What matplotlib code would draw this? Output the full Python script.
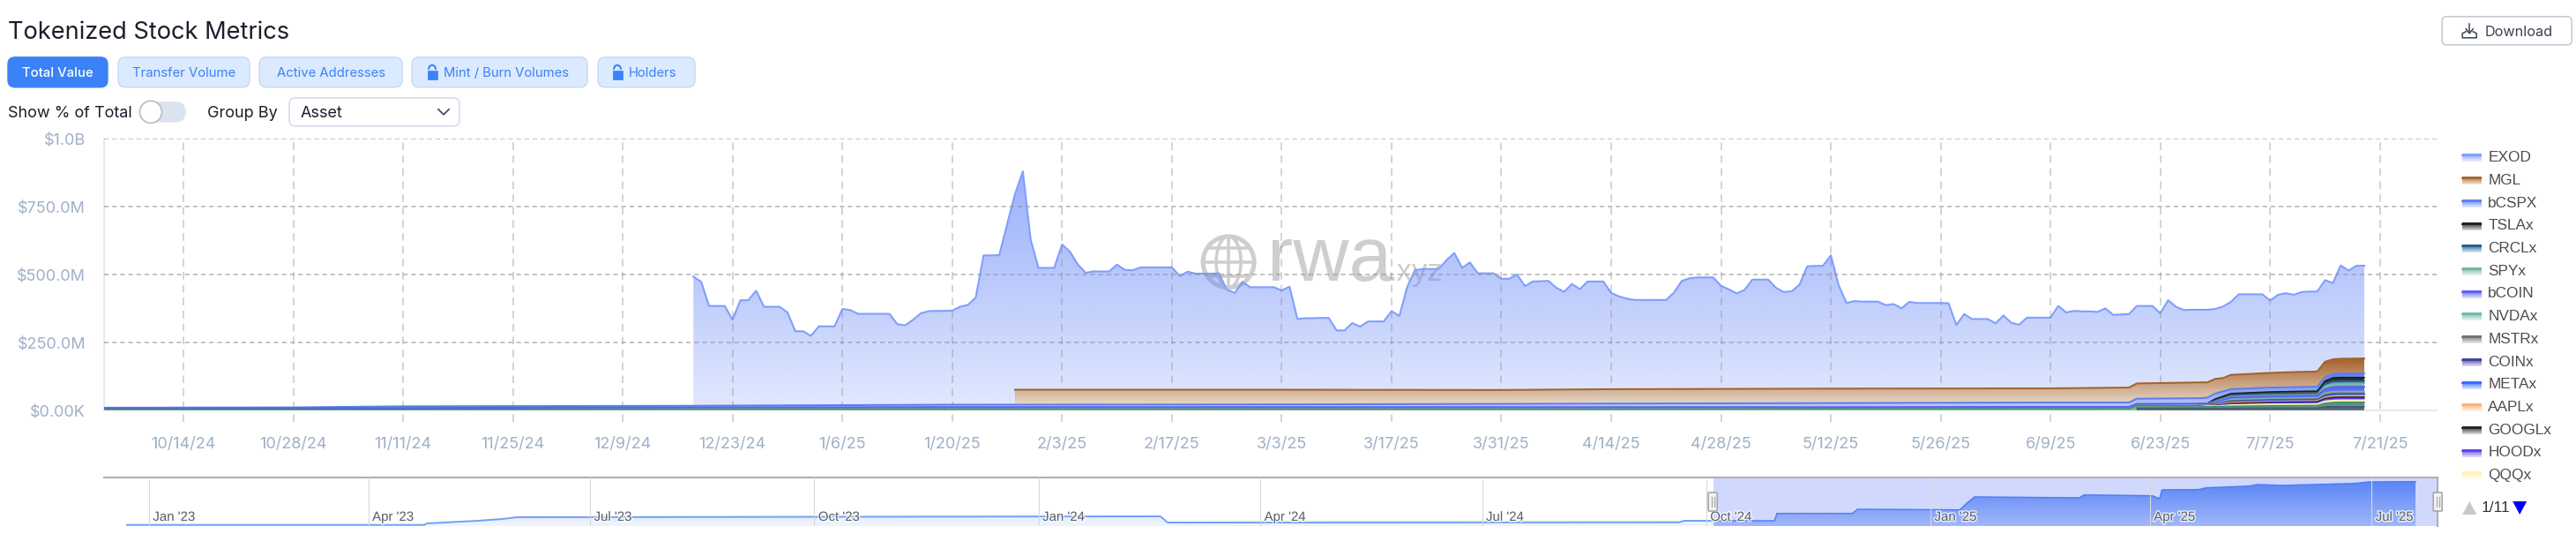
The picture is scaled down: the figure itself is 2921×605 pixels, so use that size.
import matplotlib
matplotlib.use('Agg')
import matplotlib.pyplot as plt
import matplotlib.dates as mdates
import matplotlib.patheffects as pe
from matplotlib.colors import to_rgb
from matplotlib.patches import Arc, Circle, FancyBboxPatch, Polygon, Rectangle
import numpy as np
import pandas as pd

W, H = 2921, 605
UI_FONT = 'Inter'
CHART_FONT = 'Liberation Sans'

# Top of the whole stack, one value a day from 12/18/24 ($M)
total_value = [
    492, 473, 384, 384, 384, 333, 405, 405, 440, 381, 381, 381, 360, 291,
    291, 274, 309, 309, 309, 373, 369, 355, 355, 355, 355, 355, 317, 313,
    333, 357, 365, 366, 366, 367, 381, 388, 415, 570, 570, 571, 685, 795,
    879, 628, 524, 524, 524, 610, 584, 537, 506, 511, 511, 511, 536, 517,
    515, 526, 526, 526, 526, 526, 494, 510, 503, 503, 503, 504, 444, 432,
    472, 453, 453, 453, 453, 441, 455, 336, 339, 339, 340, 340, 294, 294,
    321, 308, 327, 327, 327, 365, 347, 454, 516, 520, 520, 520, 552, 579,
    524, 544, 504, 504, 504, 484, 484, 500, 457, 474, 475, 476, 451, 436,
    465, 446, 474, 474, 474, 432, 419, 411, 406, 406, 406, 406, 406, 433,
    476, 486, 489, 489, 489, 458, 445, 430, 443, 481, 481, 481, 451, 435,
    438, 462, 530, 531, 532, 570, 460, 395, 402, 400, 400, 400, 387, 391,
    375, 399, 395, 395, 395, 395, 394, 314, 354, 336, 336, 336, 320, 349,
    322, 315, 341, 341, 341, 341, 384, 360, 366, 364, 364, 362, 375, 351,
    353, 354, 384, 384, 384, 357, 405, 381, 369, 370, 370, 370, 373, 382,
    399, 427, 427, 427, 427, 404, 425, 431, 425, 435, 437, 437, 479, 468,
    533, 514, 532, 532,
]

# Lower layers, read as the height of each layer's top edge ($M)
mgl_dates = ['2025-01-28', '2025-03-03', '2025-03-31', '2025-04-14', '2025-05-12', '2025-06-09', '2025-06-19',
             '2025-06-20', '2025-06-28', '2025-06-29', '2025-06-30', '2025-07-01', '2025-07-02', '2025-07-03',
             '2025-07-07', '2025-07-10', '2025-07-13', '2025-07-14', '2025-07-15', '2025-07-16', '2025-07-19']
mgl_top = [76, 76, 75, 78, 80, 81, 84, 99, 103, 103, 116, 119, 131, 132, 138, 141, 143, 179, 188, 190, 191]

early_dates = ['2024-10-04', '2024-10-28', '2024-11-11', '2024-12-18', '2025-01-20', '2025-03-03', '2025-04-14',
               '2025-05-12', '2025-06-09', '2025-06-19', '2025-06-20']
bcspx_early = [10, 11, 15, 17, 21, 22, 25, 27, 29, 29, 43]
bcoin_early = [7, 8, 9, 11, 12, 12, 12, 12, 13, 13, 24]
other_a_early = [4, 4, 4, 5, 5, 5, 5, 6, 6, 6, 18]

xstock_dates = ['2025-06-28', '2025-06-29', '2025-06-30', '2025-07-02', '2025-07-07',
                '2025-07-13', '2025-07-14', '2025-07-15', '2025-07-16', '2025-07-19']
bcspx_top = [45, 47, 62, 78, 84, 87, 122, 134, 136, 136]
tslax_top = [25, 26, 42, 62, 68, 71, 108, 120, 121, 121]
crclx_top = [25, 25, 36, 55, 60, 62, 98, 107, 108, 108]
spyx_top = [25, 25, 33, 51, 56, 58, 90, 99, 100, 100]
bcoin_top = [25, 25, 30, 47, 52, 54, 78, 86, 87, 87]
nvdax_top = [22, 22, 26, 40, 44, 46, 64, 69, 70, 70]
mstrx_top = [21, 21, 24, 36, 40, 42, 58, 63, 64, 64]
coinx_top = [21, 21, 22, 33, 37, 39, 54, 59, 60, 60]
metax_top = [20, 20, 21, 31, 35, 37, 51, 56, 57, 57]
aaplx_top = [20, 20, 20, 29, 33, 35, 48, 53, 54, 54]
googlx_top = [19, 19, 18, 26, 30, 32, 44, 48, 49, 49]
hoodx_top = [19, 19, 17, 23, 26, 28, 40, 43, 44, 44]
qqqx_top = [18, 18, 16, 20, 23, 24, 34, 37, 38, 38]
# assets on the later legend pages
other_a_top = [17, 14, 14, 15, 17, 18, 26, 29, 30, 30]
other_b_dates = ['2025-06-20', '2025-06-28', '2025-07-02', '2025-07-07', '2025-07-13', '2025-07-14', '2025-07-15', '2025-07-19']
other_b_top = [11, 11, 11, 12, 13, 14, 20, 22]
other_c_top = [8, 8, 8, 9, 9, 14, 14, 14]

legend_names = ['EXOD', 'MGL', 'bCSPX', 'TSLAx', 'CRCLx', 'SPYx', 'bCOIN', 'NVDAx',
                'MSTRx', 'COINx', 'METAx', 'AAPLx', 'GOOGLx', 'HOODx', 'QQQx']
legend_colors = ['#7f9fff', '#a8642d', '#5b7ff0', '#1c1c1c', '#1f5f8f', '#6fb5a5', '#5a5ff0', '#6fb8a8',
                 '#707070', '#3d3f9e', '#2f6bff', '#ffb070', '#222222', '#5a3fef', '#fff2b0']

y_ticks = [0, 250, 500, 750, 1000]
y_labels = ['$0.00K', '$250.0M', '$500.0M', '$750.0M', '$1.0B']
x_ticks = ['2024-10-14', '2024-10-28', '2024-11-11', '2024-11-25', '2024-12-09', '2024-12-23', '2025-01-06',
           '2025-01-20', '2025-02-03', '2025-02-17', '2025-03-03', '2025-03-17', '2025-03-31', '2025-04-14',
           '2025-04-28', '2025-05-12', '2025-05-26', '2025-06-09', '2025-06-23', '2025-07-07', '2025-07-21']

# Navigator series, arbitrary height units
nav_dates = ['2022-12-23', '2023-04-24', '2023-04-25', '2023-05-16', '2023-05-26', '2023-06-01', '2024-02-20',
             '2024-02-23', '2024-09-20', '2024-09-22', '2024-10-29', '2024-10-30', '2024-11-30', '2024-12-02',
             '2025-01-13', '2025-01-16', '2025-01-19', '2025-03-03', '2025-03-05', '2025-04-02', '2025-04-05',
             '2025-04-06', '2025-04-21', '2025-04-24', '2025-05-12', '2025-05-15', '2025-05-25', '2025-06-24',
             '2025-06-30', '2025-07-19']
nav_values = [1.3, 1.3, 3, 6, 8, 10, 11, 4, 4.3, 6, 6, 14.3, 14.3, 19, 18.3, 26, 33, 32, 35.3, 34.3, 31,
              41, 41.3, 43.3, 45.3, 47, 46, 48.3, 50, 50.3]
nav_ticks = ['2023-01-01', '2023-04-01', '2023-07-01', '2023-10-01', '2024-01-01', '2024-04-01', '2024-07-01',
             '2024-10-01', '2025-01-01', '2025-04-01', '2025-07-01']
nav_labels = ["Jan '23", "Apr '23", "Jul '23", "Oct '23", "Jan '24", "Apr '24", "Jul '24",
              "Oct '24", "Jan '25", "Apr '25", "Jul '25"]


def num(dates):
    return [mdates.date2num(pd.Timestamp(d)) for d in dates]


def px_axes(x0, y0, x1, y1, **kw):
    return fig.add_axes([x0 / W, 1 - y1 / H, (x1 - x0) / W, (y1 - y0) / H], **kw)


def gradient_area(ax, x, y, color, a_top, a_bot, z, line=2.0, white=False, ymax=None):
    # vertical gradient over the layer's own height, like the original chart
    if white:
        ax.fill_between(x, 0, y, color='white', lw=0, zorder=z)
    grad = np.zeros((128, 1, 4))
    grad[..., :3] = to_rgb(color)
    grad[:, 0, 3] = np.linspace(a_top, a_bot, 128)
    top = ymax if ymax else max(y)
    im = ax.imshow(grad, extent=[x[0], x[-1], 0, top], aspect='auto', origin='upper', zorder=z, interpolation='bilinear')
    clip = Polygon(list(zip([x[0]] + list(x) + [x[-1]], [0] + list(y) + [0])), transform=ax.transData, fc='none', ec='none')
    ax.add_patch(clip)
    im.set_clip_path(clip)
    if line:
        ax.plot(x, y, color=color, lw=line * 0.72, zorder=z + 0.1, solid_joinstyle='round')


def button(x0, y0, x1, y1, fc, ec, r=8, z=2, lw=1.0):
    ui.add_patch(FancyBboxPatch((x0 + r, y0 + r), x1 - x0 - 2 * r, y1 - y0 - 2 * r, boxstyle=f'round,pad={r},rounding_size={r}',
                                fc=fc, ec=ec, lw=lw, zorder=z))


def lock(cx, cy, color='#3b82f6'):
    ui.add_patch(Rectangle((cx - 5.5, cy - 2), 11, 10, fc=color, ec=color, lw=0.5, zorder=3))
    ui.add_patch(Arc((cx, cy - 3), 8, 10, theta1=180, theta2=360, ec=color, lw=1.5, zorder=3))


# the extra fraction keeps the saved height from rounding down to 604
fig = plt.figure(figsize=((W + 0.2) / 100, (H + 0.2) / 100), dpi=100, facecolor='white')

# Watermark sits under the chart
back = px_axes(0, 0, W, H, zorder=0)
back.set_xlim(0, W)
back.set_ylim(H, 0)
back.axis('off')
wm = '#cecece'
back.add_patch(Circle((1393, 297), 29, fc='none', ec=wm, lw=3.6))
for dy, half in [(-16, 22), (0, 29), (16, 22)]:
    back.plot([1393 - half, 1393 + half], [297 + dy, 297 + dy], color=wm, lw=2.6)
back.plot([1393, 1393], [268, 326], color=wm, lw=2.6)
back.add_patch(Arc((1393, 297), 28, 58, ec=wm, lw=2.6))
back.text(1437, 318, 'rwa', fontsize=63, color=wm, family=CHART_FONT, va='baseline')
back.text(1575, 318, '.xyz', fontsize=25, color=wm, family=CHART_FONT, va='baseline')

# Main chart, axes run 13 px under the zero line so the grid makes the tick stubs
ax = px_axes(118, 157, 2764, 478, zorder=1)
ax.patch.set_alpha(0)

exod_x = num(pd.date_range('2024-12-18', periods=len(total_value)))
gradient_area(ax, exod_x, total_value, '#5c80f8', 0.62, 0.18, 2, line=0)
ax.plot(exod_x, total_value, color='#7f9fff', lw=1.5, zorder=2.1)

gradient_area(ax, num(mgl_dates), mgl_top, '#a5622a', 1.0, 0.16, 3, white=True)

bcspx_x = num(early_dates + xstock_dates)
gradient_area(ax, bcspx_x, bcspx_early + bcspx_top, legend_colors[2], 1.0, 0.35, 4, white=True)

xs = num(xstock_dates)
layers = [(tslax_top, 3), (crclx_top, 4), (spyx_top, 5)]
for i, (vals, c) in enumerate(layers):
    gradient_area(ax, xs, vals, legend_colors[c], 0.95, 0.5, 5 + i, line=1.6, white=True)

gradient_area(ax, num(early_dates + xstock_dates), bcoin_early + bcoin_top, legend_colors[6], 1.0, 0.45, 8, white=True)

layers = [(nvdax_top, 7), (mstrx_top, 8), (coinx_top, 9), (metax_top, 10), (aaplx_top, 11),
          (googlx_top, 12), (hoodx_top, 13), (qqqx_top, 14)]
for i, (vals, c) in enumerate(layers):
    gradient_area(ax, xs, vals, legend_colors[c], 0.95, 0.5, 9 + i, line=1.4, white=True)

gradient_area(ax, num(early_dates + xstock_dates), other_a_early + other_a_top, '#3f8f6a', 1.0, 0.6, 18, line=1.6, white=True)
gradient_area(ax, num(other_b_dates), other_b_top, '#5f8d92', 1.0, 0.75, 19, line=1.2, white=True)
gradient_area(ax, num(other_b_dates), other_c_top, '#43596a', 1.0, 0.85, 20, line=1.2, white=True)

ax.set_xlim(mdates.date2num(pd.Timestamp('2024-10-14')) - 90 / 8.895, mdates.date2num(pd.Timestamp('2025-07-07')) + 190 / 8.895)
ax.set_ylim(-42.2, 1000)
ax.set_xticks(num(x_ticks))
ax.set_xticklabels([f'{pd.Timestamp(d).month}/{pd.Timestamp(d).day}/{pd.Timestamp(d).year % 100}' for d in x_ticks])
ax.set_yticks(y_ticks)
ax.set_yticklabels(y_labels)
ax.tick_params(axis='both', length=0, labelsize=13, labelcolor='#9fb0c8', labelfontfamily=UI_FONT)
ax.tick_params(axis='x', pad=12)
ax.tick_params(axis='y', pad=15)
ax.set_axisbelow(False)
ax.grid(True, axis='y', color='#8f8f8f', alpha=0.68, lw=1.1, ls=(0, (3.4, 2.6)), zorder=30)
ax.grid(True, axis='x', color='#8f8f8f', alpha=0.5, lw=1.1, ls=(0, (5.6, 4.0)), zorder=30)
ax.yaxis.get_gridlines()[0].set(color='#dde4ef', ls='-', alpha=1, lw=1.2)
for name, spine in ax.spines.items():
    spine.set_visible(name == 'left')
ax.spines['left'].set(color='#dfe5f0', lw=1.2, bounds=(0, 1000))

# Navigator
nav = px_axes(118, 541, 2764, 596, zorder=1)
nav_x = num(nav_dates)
nav.set_facecolor('none')
sel_start = mdates.date2num(pd.Timestamp('2024-10-04'))
gradient_area(nav, nav_x, nav_values, '#5f93f5', 0.42, 0.1, 2, line=0, ymax=50.3)
nav.plot(nav_x, nav_values, color='#6fa0f5', lw=1.4, zorder=2.1)
nav.axvspan(sel_start, mdates.date2num(pd.Timestamp('2025-07-01')) + 27.1, color='#c9d2fd', alpha=0.85, lw=0, zorder=2.2)
gradient_area(nav, [sel_start] + [d for d in nav_x if d > sel_start], [6] + [v for d, v in zip(nav_x, nav_values) if d > sel_start],
              '#4f7df5', 0.9, 0.35, 3, line=1.4, ymax=50.3)
nav.set_xlim(mdates.date2num(pd.Timestamp('2023-01-01')) - 51 / 2.766, mdates.date2num(pd.Timestamp('2025-07-01')) + 75 / 2.766)
nav.set_ylim(0, 55)
nav.set_yticks([])
nav.set_xticks([])
for d, lab in zip(num(nav_ticks), nav_labels):
    nav.axvline(d, color='#d8d8d8', lw=0.8, zorder=3.5)
    nav.text(d + 1.6, 10, lab, fontsize=10.8, color='#5f6368', family=CHART_FONT, va='center', zorder=4,
             path_effects=[pe.withStroke(linewidth=2.2, foreground='white', alpha=0.75)])
for name, spine in nav.spines.items():
    spine.set_visible(name in ('top', 'right'))
    spine.set(color='#b0b0b0', lw=1.5)

# Page furniture, in pixel coordinates
ui = px_axes(0, 0, W, H, zorder=5)
ui.patch.set_alpha(0)
ui.set_xlim(0, W)
ui.set_ylim(H, 0)
ui.axis('off')

ui.text(9, 36.5, 'Tokenized Stock Metrics', fontsize=19.6, color='#1b1f2a', family=UI_FONT, va='center')

tabs = [(9, 122, 'Total Value'), (134, 283, 'Transfer Volume'), (294, 456, 'Active Addresses'),
        (467, 666, 'Mint / Burn Volumes'), (678, 788, 'Holders')]
for i, (x0, x1, lab) in enumerate(tabs):
    active = i == 0
    button(x0, 65, x1, 99, '#3b82f6' if active else '#dbeafe', '#3b82f6' if active else '#c9d9f2')
    cx = (x0 + x1) / 2
    if i >= 3:
        cx += 7
    ui.text(cx, 83, lab, fontsize=10.7, color='white' if active else '#3b82f6', family=UI_FONT,
            ha='center', va='center', zorder=4, fontweight='medium' if active else 'normal')
lock(490, 82)
lock(700, 82)

ui.text(9, 128, 'Show % of Total', fontsize=13, color='#1b1f2a', family=UI_FONT, va='center')
button(160, 116, 210, 138, '#dbe3f0', '#dbe3f0', r=11)
ui.add_patch(Circle((171, 127), 12.5, fc='white', ec='#b8bcc6', lw=1.2, zorder=3))
ui.text(235, 128, 'Group By', fontsize=13, color='#1b1f2a', family=UI_FONT, va='center')
button(328, 111, 521, 143, 'white', '#d5dcec', r=7, lw=1.2)
ui.text(341, 128, 'Asset', fontsize=13, color='#1b1f2a', family=UI_FONT, va='center', zorder=4)
ui.plot([497, 503, 509], [124, 130, 124], color='#3c4250', lw=1.2, zorder=4)

button(2769, 19, 2916, 51, 'white', '#c4c8d0', r=5, lw=1.1)
ui.text(2856, 36, 'Download', fontsize=11.7, color='#3a4252', family=UI_FONT, ha='center', va='center', zorder=4)
ui.plot([2800, 2800], [27, 37], color='#3a4252', lw=1.1, zorder=4)
ui.plot([2796, 2800, 2804], [33, 38, 33], color='#3a4252', lw=1.1, zorder=4)
ui.plot([2796, 2792, 2792, 2808, 2808, 2804], [36, 38, 43, 43, 38, 36], color='#3a4252', lw=1.1, zorder=4)

# Legend, first page only
for i, (name, c) in enumerate(zip(legend_names, legend_colors)):
    y = 178.6 + i * 25.7
    grad = np.zeros((32, 1, 4))
    grad[..., :3] = to_rgb(c)
    grad[:, 0, 3] = np.linspace(1, 0.15, 32)
    ui.imshow(grad, extent=[2792, 2813, y + 5, y - 3], aspect='auto', origin='upper', zorder=3)
    ui.plot([2792, 2813], [y - 2, y - 2], color=c, lw=1.4, alpha=0.9, zorder=3)
    ui.text(2821, y, name, fontsize=12.4, color='#4d4d4d', family=CHART_FONT, va='center', zorder=3)
ui.add_patch(Polygon([(2792, 583), (2808, 583), (2800, 568)], fc='#c8c8c8', ec='none'))
ui.text(2813, 575.5, '1/11', fontsize=12.4, color='#333333', family=CHART_FONT, va='center')
ui.add_patch(Polygon([(2849, 568), (2865, 568), (2857, 583)], fc='#0000f0', ec='none'))

# Navigator handles
for x in [1942, 2764]:
    button(x - 5, 558, x + 5, 579, '#f4f4f4', '#a8a8a8', r=1, z=6, lw=1.2)
    ui.plot([x - 1.5, x - 1.5], [563, 574], color='#a8a8a8', lw=0.9, zorder=7)
    ui.plot([x + 1.5, x + 1.5], [563, 574], color='#a8a8a8', lw=0.9, zorder=7)

ui.set_xlim(0, W)
ui.set_ylim(H, 0)

plt.savefig('out.png', dpi=100, facecolor='white')
